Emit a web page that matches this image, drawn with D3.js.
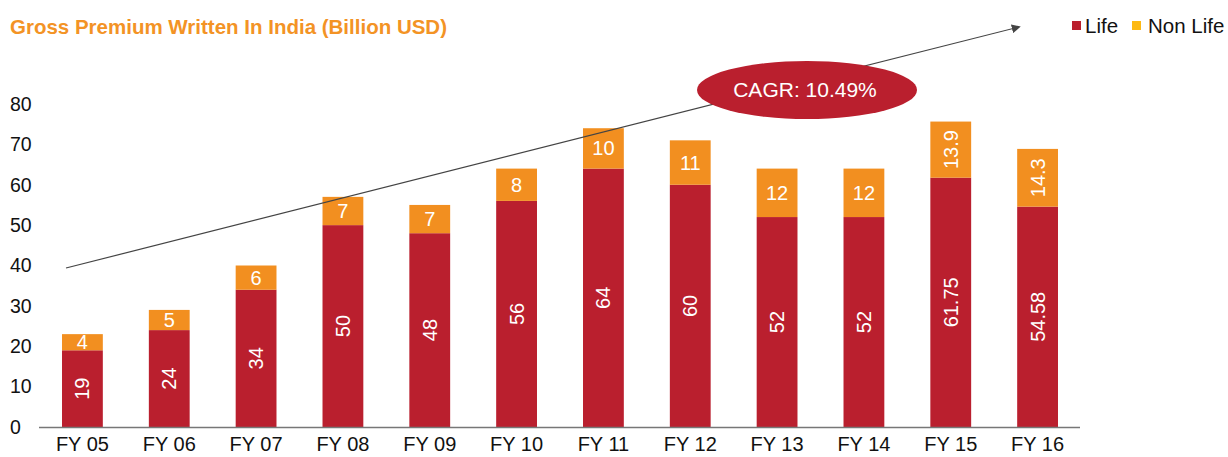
<!DOCTYPE html>
<html><head><meta charset="utf-8">
<script src="https://cdn.jsdelivr.net/npm/d3@7"></script>
<style>body{margin:0;background:#fff}svg{display:block;font-family:"Liberation Sans",Arial,sans-serif}</style>
</head><body><svg id="c" width="1228" height="457"></svg>
<script>
const categories = ["FY 05","FY 06","FY 07","FY 08","FY 09","FY 10","FY 11","FY 12","FY 13","FY 14","FY 15","FY 16"];
const lifeValues = [19,24,34,50,48,56,64,60,52,52,61.75,54.58];
const nonLifeValues = [4,5,6,7,7,8,10,11,12,12,13.9,14.3];
const lifeLabels = ["19","24","34","50","48","56","64","60","52","52","61.75","54.58"];
const nonLifeLabels = ["4","5","6","7","7","8","10","11","12","12","13.9","14.3"];
const yTicks = [0,10,20,30,40,50,60,70,80];
const seriesNames = ["Life","Non Life"];
const cagrText = "CAGR: 10.49%";
const title = "Gross Premium Written In India (Billion USD)";

const RED = "#BA1F2E", ORANGE = "#F28F20", LEGEND_Y = "#FDB913";
const svg = d3.select("#c");
const x = d3.scaleBand().domain(categories).range([39,1081]).paddingInner(0.53).paddingOuter(0.265);
const y = d3.scaleLinear().domain([0,80]).range([427,104]);

svg.append("text").attr("x",10).attr("y",34).attr("fill","#F39325").attr("font-weight","bold")
  .attr("font-size",20.5).text(title);

// y tick labels
svg.append("g").selectAll("text").data(yTicks).join("text")
  .attr("x",10).attr("y",d=>y(d)).attr("dy","0.35em").attr("font-size",19.5).attr("fill","#111").text(d=>d);

// bars
const g = svg.append("g");
categories.forEach((c,i)=>{
  const l = lifeValues[i], n = nonLifeValues[i];
  g.append("rect").attr("x",x(c)).attr("width",x.bandwidth()).attr("y",y(l)).attr("height",y(0)-y(l)).attr("fill",RED);
  g.append("rect").attr("x",x(c)).attr("width",x.bandwidth()).attr("y",y(l+n)).attr("height",y(l)-y(l+n)).attr("fill",ORANGE);
  const cx = x(c)+x.bandwidth()/2;
  const ly = (y(0)+y(l))/2;
  g.append("text").attr("transform",`translate(${cx},${ly}) rotate(-90)`).attr("text-anchor","middle").attr("dy","0.35em")
    .attr("fill","#fff").attr("font-size",20).text(lifeLabels[i]);
  const ny = (y(l)+y(l+n))/2;
  const rot = nonLifeLabels[i].includes(".");
  g.append("text").attr("transform",`translate(${cx},${ny})`+(rot?" rotate(-90)":"")).attr("text-anchor","middle").attr("dy","0.35em")
    .attr("fill","#fff").attr("font-size",20).text(nonLifeLabels[i]);
});

// x axis
svg.append("line").attr("x1",39).attr("x2",1080).attr("y1",427.5).attr("y2",427.5).attr("stroke","#777").attr("stroke-width",1.5);
svg.append("g").selectAll("text").data(categories).join("text")
  .attr("x",d=>x(d)+x.bandwidth()/2).attr("y",451).attr("text-anchor","middle").attr("font-size",20).attr("fill","#111").text(d=>d);

// arrow
const defs = svg.append("defs");
defs.append("marker").attr("id","ah").attr("viewBox","0 0 10 10").attr("refX",8).attr("refY",5)
  .attr("markerWidth",9).attr("markerHeight",9).attr("markerUnits","userSpaceOnUse").attr("orient","auto")
  .append("path").attr("d","M0,0 L10,5 L0,10 z").attr("fill","#444");
svg.append("line").attr("x1",66).attr("y1",268).attr("x2",1019).attr("y2",27).attr("stroke","#444").attr("stroke-width",1.2).attr("marker-end","url(#ah)");

// CAGR ellipse
svg.append("ellipse").attr("cx",807).attr("cy",90).attr("rx",110).attr("ry",29).attr("fill",RED);
svg.append("text").attr("x",805).attr("y",90).attr("dy","0.35em").attr("text-anchor","middle").attr("fill","#fff").attr("font-size",21).text(cagrText);

// legend
const leg = svg.append("g");
leg.append("rect").attr("x",1072).attr("y",21).attr("width",9).attr("height",9).attr("fill",RED);
leg.append("text").attr("x",1085).attr("y",26).attr("dy","0.35em").attr("font-size",20.5).attr("fill","#111").text(seriesNames[0]);
leg.append("rect").attr("x",1132).attr("y",21).attr("width",9).attr("height",9).attr("fill",LEGEND_Y);
leg.append("text").attr("x",1148).attr("y",26).attr("dy","0.35em").attr("font-size",20.5).attr("fill","#111").text(seriesNames[1]);
</script></body></html>
